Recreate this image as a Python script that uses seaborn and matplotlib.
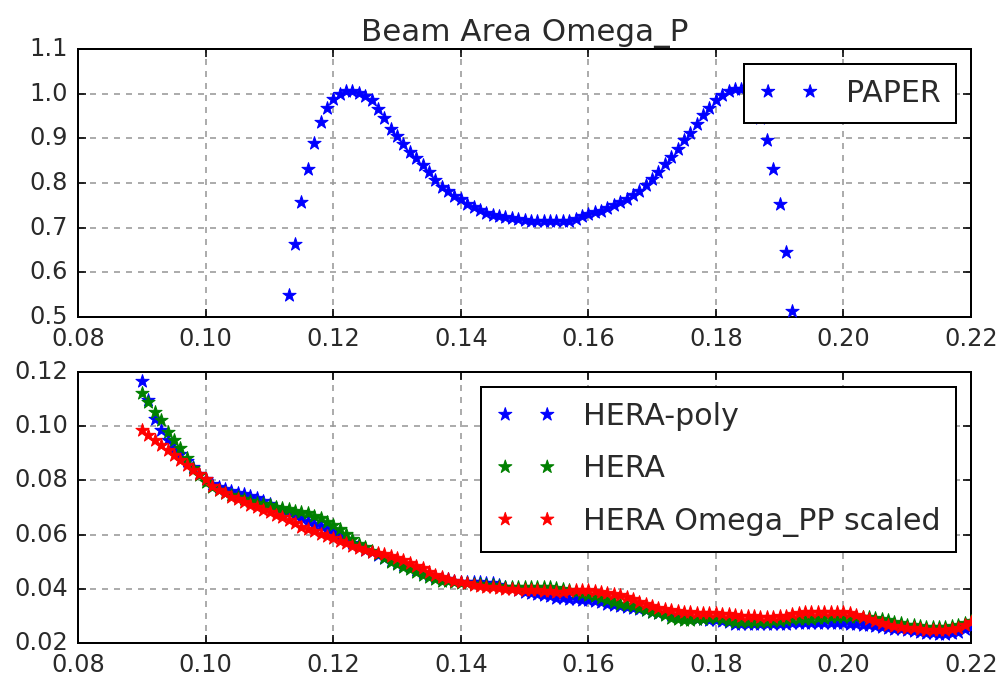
import numpy as np
import pandas as pd
import matplotlib
matplotlib.use("Agg")
import matplotlib.pyplot as plt
import seaborn as sns

# ---------------- data ----------------
freq = [0.090, 0.091, 0.092, 0.093, 0.094, 0.095, 0.096, 0.097, 0.098, 0.099,
        0.100, 0.101, 0.102, 0.103, 0.104, 0.105, 0.106, 0.107, 0.108, 0.109,
        0.110, 0.111, 0.112, 0.113, 0.114, 0.115, 0.116, 0.117, 0.118, 0.119,
        0.120, 0.121, 0.122, 0.123, 0.124, 0.125, 0.126, 0.127, 0.128, 0.129,
        0.130, 0.131, 0.132, 0.133, 0.134, 0.135, 0.136, 0.137, 0.138, 0.139,
        0.140, 0.141, 0.142, 0.143, 0.144, 0.145, 0.146, 0.147, 0.148, 0.149,
        0.150, 0.151, 0.152, 0.153, 0.154, 0.155, 0.156, 0.157, 0.158, 0.159,
        0.160, 0.161, 0.162, 0.163, 0.164, 0.165, 0.166, 0.167, 0.168, 0.169,
        0.170, 0.171, 0.172, 0.173, 0.174, 0.175, 0.176, 0.177, 0.178, 0.179,
        0.180, 0.181, 0.182, 0.183, 0.184, 0.185, 0.186, 0.187, 0.188, 0.189,
        0.190, 0.191, 0.192, 0.193, 0.194, 0.195, 0.196, 0.197, 0.198, 0.199,
        0.200, 0.201, 0.202, 0.203, 0.204, 0.205, 0.206, 0.207, 0.208, 0.209,
        0.210, 0.211, 0.212, 0.213, 0.214, 0.215, 0.216, 0.217, 0.218, 0.219,
        0.220]

# top panel: PAPER beam area (0.113 .. 0.192)
paper_freq = freq[23:103]
paper = [0.549, 0.663, 0.757, 0.831, 0.889, 0.937, 0.967, 0.988, 1.000, 1.005,
         1.005, 1.002, 0.995, 0.985, 0.966, 0.945, 0.922, 0.905, 0.887, 0.869,
         0.855, 0.840, 0.825, 0.807, 0.791, 0.781, 0.772, 0.764, 0.754, 0.746,
         0.739, 0.733, 0.729, 0.726, 0.724, 0.722, 0.719, 0.717, 0.716, 0.715,
         0.714, 0.714, 0.714, 0.715, 0.716, 0.720, 0.725, 0.730, 0.734, 0.737,
         0.744, 0.751, 0.758, 0.764, 0.773, 0.783, 0.795, 0.810, 0.825, 0.843,
         0.858, 0.877, 0.896, 0.912, 0.933, 0.952, 0.969, 0.985, 0.998, 1.006,
         1.010, 1.010, 1.000, 0.980, 0.945, 0.896, 0.831, 0.752, 0.645, 0.514]

hera_poly = [0.1168, 0.1095, 0.1025, 0.0985, 0.0950, 0.0920, 0.0898, 0.0873, 0.0850, 0.0825,
             0.0805, 0.0785, 0.0775, 0.0768, 0.0760, 0.0754, 0.0748, 0.0742, 0.0735, 0.0725,
             0.0712, 0.0700, 0.0692, 0.0683, 0.0673, 0.0663, 0.0652, 0.0640, 0.0630, 0.0620,
             0.0611, 0.0597, 0.0583, 0.0570, 0.0558, 0.0545, 0.0535, 0.0525, 0.0513, 0.0502,
             0.0495, 0.0488, 0.0480, 0.0470, 0.0460, 0.0452, 0.0445, 0.0440, 0.0435, 0.0430,
             0.0426, 0.0425, 0.0425, 0.0424, 0.0423, 0.0420, 0.0415, 0.0408, 0.0402, 0.0395,
             0.0388, 0.0385, 0.0382, 0.0378, 0.0372, 0.0366, 0.0365, 0.0363, 0.0362, 0.0360,
             0.0358, 0.0355, 0.0350, 0.0345, 0.0340, 0.0336, 0.0334, 0.0330, 0.0325, 0.0320,
             0.0315, 0.0311, 0.0307, 0.0302, 0.0298, 0.0294, 0.0292, 0.0290, 0.0288, 0.0286,
             0.0285, 0.0282, 0.0276, 0.0271, 0.0270, 0.0270, 0.0270, 0.0270, 0.0270, 0.0270,
             0.0271, 0.0271, 0.0272, 0.0272, 0.0272, 0.0272, 0.0272, 0.0272, 0.0272, 0.0272,
             0.0272, 0.0271, 0.0270, 0.0268, 0.0265, 0.0262, 0.0259, 0.0256, 0.0253, 0.0250,
             0.0247, 0.0244, 0.0241, 0.0238, 0.0236, 0.0235, 0.0235, 0.0237, 0.0242, 0.0250,
             0.0258]

hera = [0.1122, 0.1090, 0.1054, 0.1023, 0.0980, 0.0949, 0.0918, 0.0882, 0.0845, 0.0820,
        0.0795, 0.0775, 0.0765, 0.0755, 0.0745, 0.0737, 0.0730, 0.0724, 0.0718, 0.0712,
        0.0708, 0.0703, 0.0698, 0.0693, 0.0688, 0.0685, 0.0678, 0.0670, 0.0660, 0.0648,
        0.0635, 0.0620, 0.0602, 0.0585, 0.0565, 0.0553, 0.0540, 0.0527, 0.0513, 0.0500,
        0.0490, 0.0481, 0.0472, 0.0462, 0.0452, 0.0443, 0.0436, 0.0430, 0.0427, 0.0425,
        0.0423, 0.0421, 0.0419, 0.0417, 0.0415, 0.0413, 0.0410, 0.0408, 0.0407, 0.0407,
        0.0407, 0.0406, 0.0405, 0.0405, 0.0405, 0.0404, 0.0400, 0.0395, 0.0388, 0.0382,
        0.0377, 0.0372, 0.0367, 0.0360, 0.0352, 0.0345, 0.0340, 0.0335, 0.0328, 0.0322,
        0.0316, 0.0310, 0.0302, 0.0293, 0.0290, 0.0286, 0.0285, 0.0287, 0.0290, 0.0291,
        0.0291, 0.0287, 0.0282, 0.0279, 0.0278, 0.0278, 0.0278, 0.0279, 0.0279, 0.0280,
        0.0282, 0.0285, 0.0288, 0.0290, 0.0290, 0.0290, 0.0291, 0.0293, 0.0295, 0.0297,
        0.0297, 0.0297, 0.0297, 0.0297, 0.0296, 0.0293, 0.0289, 0.0285, 0.0279, 0.0273,
        0.0268, 0.0265, 0.0262, 0.0260, 0.0259, 0.0259, 0.0260, 0.0263, 0.0268, 0.0275,
        0.0283]

hera_pp_scaled = [0.0985, 0.0968, 0.0950, 0.0932, 0.0913, 0.0893, 0.0875, 0.0857, 0.0840, 0.0822,
                  0.0805, 0.0780, 0.0765, 0.0752, 0.0740, 0.0730, 0.0720, 0.0711, 0.0702, 0.0692,
                  0.0683, 0.0673, 0.0664, 0.0654, 0.0643, 0.0629, 0.0622, 0.0613, 0.0604, 0.0595,
                  0.0586, 0.0577, 0.0568, 0.0558, 0.0550, 0.0542, 0.0536, 0.0532, 0.0530, 0.0520,
                  0.0515, 0.0508, 0.0497, 0.0485, 0.0475, 0.0462, 0.0450, 0.0442, 0.0435, 0.0430,
                  0.0426, 0.0420, 0.0415, 0.0411, 0.0408, 0.0405, 0.0402, 0.0400, 0.0398, 0.0397,
                  0.0396, 0.0395, 0.0394, 0.0393, 0.0391, 0.0389, 0.0389, 0.0392, 0.0395, 0.0397,
                  0.0396, 0.0392, 0.0388, 0.0385, 0.0382, 0.0378, 0.0371, 0.0362, 0.0352, 0.0343,
                  0.0335, 0.0328, 0.0324, 0.0320, 0.0318, 0.0316, 0.0314, 0.0312, 0.0311, 0.0310,
                  0.0310, 0.0308, 0.0306, 0.0303, 0.0301, 0.0299, 0.0298, 0.0297, 0.0297, 0.0297,
                  0.0298, 0.0301, 0.0306, 0.0311, 0.0315, 0.0316, 0.0316, 0.0316, 0.0316, 0.0316,
                  0.0316, 0.0312, 0.0303, 0.0295, 0.0287, 0.0280, 0.0274, 0.0268, 0.0264, 0.0260,
                  0.0257, 0.0254, 0.0251, 0.0249, 0.0248, 0.0248, 0.0249, 0.0251, 0.0256, 0.0266,
                  0.0277]

title = "Beam Area Omega_P"
top_label = "PAPER"
bottom_labels = ["HERA-poly", "HERA", "HERA Omega_PP scaled"]
bottom_colors = ["#0000ff", "#008000", "#ff0000"]
bottom_series = [hera_poly, hera, hera_pp_scaled]

x_ticks = [0.08, 0.10, 0.12, 0.14, 0.16, 0.18, 0.20, 0.22]
top_yticks = [0.5, 0.6, 0.7, 0.8, 0.9, 1.0, 1.1]
bottom_yticks = [0.02, 0.04, 0.06, 0.08, 0.10, 0.12]

# ---------------- style ----------------
plt.style.use("classic")
plt.rcParams.update({
    "figure.facecolor": "white",
    "savefig.facecolor": "white",
    "font.family": ["DejaVu Sans"],
    "font.size": 12,
})

DPI = 144
fig = plt.figure(figsize=(1003 / DPI, 679 / DPI), dpi=DPI)
ax1 = fig.add_axes([0.078, 1 - 317 / 679, 0.890, (317 - 49) / 679])
ax2 = fig.add_axes([0.078, 1 - 643 / 679, 0.890, (643 - 372) / 679])

TEXT = "#2a2a2a"

def draw(ax, xs, ys, col, lab):
    sns.scatterplot(x=xs, y=ys, color=col, label=lab, ax=ax, zorder=3,
                    marker="*", s=48, linewidth=0.5, edgecolor=col)

draw(ax1, paper_freq, paper, "#0000ff", top_label)
for ys, lab, col in zip(bottom_series, bottom_labels, bottom_colors):
    draw(ax2, freq, ys, col, lab)

for ax, yt in ((ax1, top_yticks), (ax2, bottom_yticks)):
    ax.set_xlim(0.08, 0.22)
    ax.set_ylim(yt[0], yt[-1])
    ax.set_xticks(x_ticks)
    ax.set_yticks(yt)
    ax.set_xlabel("")
    ax.set_ylabel("")
    ax.grid(True, color="0.6", linestyle=(0, (3, 3)), linewidth=0.8)
    ax.set_axisbelow(True)
    ax.tick_params(direction="in", length=4, width=0.8, top=True, right=True,
                   labelsize=12, labelcolor=TEXT, pad=5)
    for sp in ax.spines.values():
        sp.set_linewidth(1.0)

ax1.set_yticklabels([f"{v:.1f}" for v in top_yticks])
ax1.set_title(title, fontsize=15.5, color=TEXT, pad=4)

for ax in (ax1, ax2):
    leg = ax.legend(loc="upper right", fontsize=15, scatterpoints=2,
                    scatteryoffsets=[0.5], fancybox=False, frameon=True,
                    borderaxespad=0.5, borderpad=0.5, handlelength=2.0,
                    handletextpad=0.9, labelspacing=0.78)
    leg.get_frame().set_edgecolor("black")
    leg.get_frame().set_linewidth(1.0)
    for t in leg.get_texts():
        t.set_color(TEXT)

fig.savefig("out.png", dpi=DPI)
